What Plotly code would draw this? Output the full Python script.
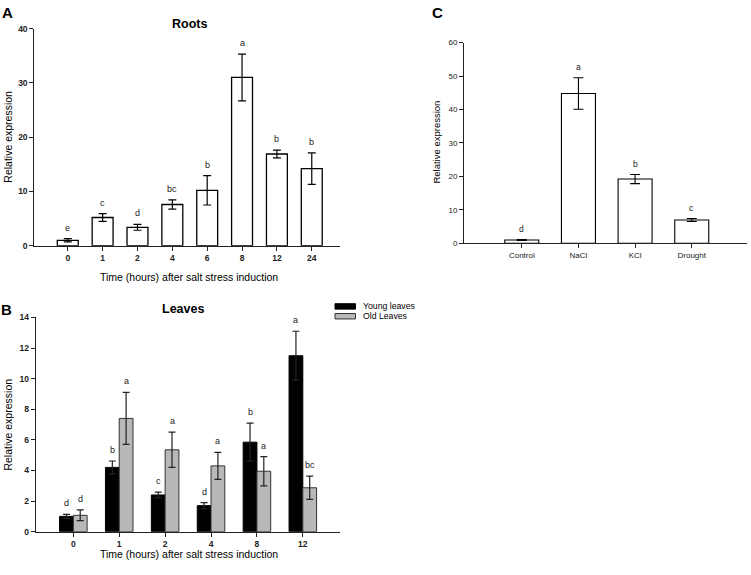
import plotly.graph_objects as go

W, H = 751, 575
FONT = "Liberation Sans, Arial, sans-serif"

# ---------------- data ----------------
roots_time = ["0", "1", "2", "4", "6", "8", "12", "24"]
roots_val = [1.0, 5.2, 3.4, 7.6, 10.2, 31.0, 16.9, 14.2]
roots_err = [0.3, 0.7, 0.55, 0.85, 2.7, 4.3, 0.7, 2.9]
roots_letters = ["e", "c", "d", "bc", "b", "a", "b", "b"]

leaves_time = ["0", "1", "2", "4", "8", "12"]
young_val = [1.0, 4.2, 2.4, 1.7, 5.85, 11.5]
young_err = [0.13, 0.42, 0.18, 0.2, 1.24, 1.6]
young_letters = ["d", "b", "c", "d", "b", "a"]
old_val = [1.07, 7.4, 5.35, 4.3, 3.95, 2.87]
old_err = [0.35, 1.7, 1.15, 0.88, 0.96, 0.76]
old_letters = ["d", "a", "a", "a", "a", "bc"]

treat_cat = ["Control", "NaCl", "KCl", "Drought"]
treat_val = [1.0, 44.8, 19.2, 6.95]
treat_err = [0.12, 4.7, 1.35, 0.45]
treat_letters = ["d", "a", "b", "c"]

# ---------------- helpers ----------------
def px(x):
    return x / W

def py(y):
    return 1 - y / H

GRAY = "#b8b8b8"
fig = go.Figure()

# Panel A: roots
fig.add_trace(go.Bar(
    x=roots_time, y=roots_val, xaxis="x", yaxis="y",
    marker=dict(color="white", line=dict(color="black", width=1.3)),
    error_y=dict(type="data", array=roots_err, color="black", thickness=1.2, width=4),
    showlegend=False, offsetgroup="A",
))

# Panel B: leaves
fig.add_trace(go.Bar(
    x=leaves_time, y=young_val, xaxis="x2", yaxis="y2", name="Young leaves",
    marker=dict(color="black", line=dict(color="black", width=1)),
    error_y=dict(type="data", array=young_err, color="#222", thickness=1.2, width=3.5),
    showlegend=False,
))
fig.add_trace(go.Bar(
    x=leaves_time, y=old_val, xaxis="x2", yaxis="y2", name="Old Leaves",
    marker=dict(color=GRAY, line=dict(color="#333", width=1)),
    error_y=dict(type="data", array=old_err, color="#222", thickness=1.2, width=3.5),
    showlegend=False,
))

# Panel C: treatments
fig.add_trace(go.Bar(
    x=treat_cat, y=treat_val, xaxis="x3", yaxis="y3",
    marker=dict(color="white", line=dict(color="black", width=1.1)),
    error_y=dict(type="data", array=treat_err, color="black", thickness=1.1, width=5),
    showlegend=False, offsetgroup="C",
))

annotations = []

def letter(xv, yv, txt, xref, yref, size=9):
    annotations.append(dict(x=xv, y=yv, xref=xref, yref=yref, text=txt,
                            showarrow=False, yanchor="bottom", yshift=4,
                            font=dict(family=FONT, size=size, color="#222")))

for i, (v, e, t) in enumerate(zip(roots_val, roots_err, roots_letters)):
    letter(i, v + e, t, "x", "y")
for i, (v, e, t) in enumerate(zip(young_val, young_err, young_letters)):
    letter(i - 0.15, v + e, t, "x2", "y2")
for i, (v, e, t) in enumerate(zip(old_val, old_err, old_letters)):
    letter(i + 0.15, v + e, t, "x2", "y2")
for i, (v, e, t) in enumerate(zip(treat_val, treat_err, treat_letters)):
    letter(i, v + e, t, "x3", "y3", size=8.5)

def txt(x, y, s, size, bold=False, angle=0, xanchor="center", yanchor="middle"):
    annotations.append(dict(x=px(x), y=py(y), xref="paper", yref="paper", text=s,
                            showarrow=False, textangle=angle, xanchor=xanchor, yanchor=yanchor,
                            font=dict(family=FONT, size=size, color="black",
                                      weight="bold" if bold else "normal")))

# panel labels and titles
txt(7, 8, "A", 15, bold=True)
txt(6, 310, "B", 15, bold=True)
txt(437, 7.5, "C", 15, bold=True)
txt(189, 19, "Roots", 12.5, bold=True)
txt(183, 309, "Leaves", 12.5, bold=True)
# axis titles
txt(8, 134, "Relative expression", 10.5, angle=-90)
txt(189, 276.5, "Time (hours) after salt stress induction", 10.5)
txt(8, 427, "Relative expression", 10.5, angle=-90)
txt(189, 559, "Time (hours) after salt stress induction", 10.5)
txt(437, 140, "Relative expression", 9.5, angle=-90)
# legend text
txt(360.5, 306.5, "Young leaves", 8.7, xanchor="left")
txt(360.5, 316.5, "Old Leaves", 8.7, xanchor="left")

shapes = [
    dict(type="rect", xref="paper", yref="paper", x0=px(335), x1=px(355.5), y0=py(309.5), y1=py(304),
         fillcolor="black", line=dict(color="black", width=1)),
    dict(type="rect", xref="paper", yref="paper", x0=px(335), x1=px(355.5), y0=py(319.5), y1=py(314),
         fillcolor=GRAY, line=dict(color="#333", width=1)),
]

axis_common = dict(showline=True, linecolor="#222", linewidth=1, ticks="outside", ticklen=4,
                   tickcolor="#222", tickwidth=1, showgrid=False, zeroline=False)
tick_bold = dict(family=FONT, size=8.5, color="#222", weight="bold")
tick_norm = dict(family=FONT, size=8, color="#222")

fig.update_layout(
    width=W, height=H,
    margin=dict(l=0, r=0, t=0, b=0),
    paper_bgcolor="white", plot_bgcolor="white",
    barmode="group", bargap=0.4, bargroupgap=0,
    font=dict(family=FONT),
    xaxis=dict(domain=[px(34.3), px(340)], anchor="y", type="category",
               range=[-0.96, 7.81], tickfont=tick_bold, **axis_common),
    yaxis=dict(domain=[py(245), py(24)], anchor="x", range=[0, 40],
               tickvals=[0, 10, 20, 30, 40], tickfont=tick_bold, **axis_common),
    xaxis2=dict(domain=[px(35.7), px(340)], anchor="y2", type="category",
                range=[-0.82, 5.81], tickfont=tick_bold, **axis_common),
    yaxis2=dict(domain=[py(536), py(318)], anchor="x2", range=[0, 14],
                tickvals=[0, 2, 4, 6, 8, 10, 12, 14], tickfont=tick_bold, **axis_common),
    xaxis3=dict(domain=[px(464), px(746.7)], anchor="y3", type="category",
                range=[-1.02, 3.97], tickfont=tick_norm, **axis_common),
    yaxis3=dict(domain=[py(242.5), py(38.3)], anchor="x3", range=[0, 60],
                tickvals=[0, 10, 20, 30, 40, 50, 60], tickfont=tick_norm, **axis_common),
    annotations=annotations,
    shapes=shapes,
)

fig.write_html("out.html",
               config={"displayModeBar": False},
               post_script="document.body.style.margin='0';document.body.style.padding='0';"
                           "document.documentElement.style.overflow='hidden';")
